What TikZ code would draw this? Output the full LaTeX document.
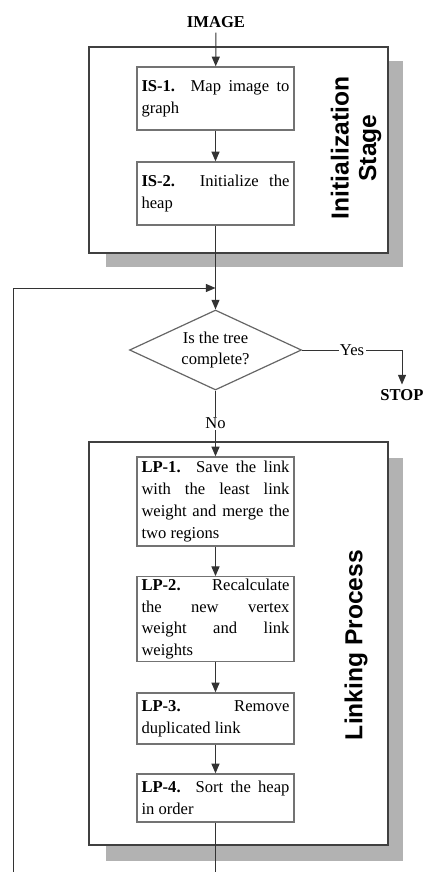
\documentclass[tikz,border=0pt]{standalone}
\usepackage{fontspec}
\setmainfont{Liberation Serif}
\setsansfont{Liberation Sans}
\usetikzlibrary{positioning}
\usetikzlibrary{shapes.geometric}
\usetikzlibrary{arrows.meta}

\newcommand\stepfont{\fontsize{11.8}{15.5}\selectfont\hyphenpenalty=10000\tolerance=10000}
\newcommand\stagefont{\fontsize{17.5}{19.5}\selectfont\sffamily\bfseries}

\tikzset{
  flow/.style={draw=black!80, line width=0.25mm, -{Triangle[length=2.4mm,width=2mm]}},
  stageframe/.style={draw=black!75, line width=0.5mm, fill=white},
  stageshadow/.style={fill=black!30},
  stepbox/.style={draw=black!55, line width=0.35mm, fill=white, text width=37mm,
    inner xsep=1.1mm, inner ysep=0.5mm, align=justify, font=\stepfont},
  test/.style={diamond, draw=black!60, line width=0.3mm, fill=white, aspect=2.15,
    minimum width=43mm, minimum height=20mm, inner sep=0pt, align=center, font=\stepfont},
  stagelabel/.style={rotate=90, align=center, font=\stagefont},
  tag/.style={font=\stepfont\bfseries},
  answer/.style={fill=white, inner sep=1pt, font=\stepfont}
}

\begin{document}
\begin{tikzpicture}[x=0.25mm,y=-0.25mm]
 \path[use as bounding box, clip] (0,0) rectangle (423,872);
 % the two stages
 \fill[stageshadow] (106,61) rectangle (403,267);
 \draw[stageframe] (89,47) rectangle (388,253);
 \fill[stageshadow] (106,458) rectangle (403,861);
 \draw[stageframe] (89,442) rectangle (388,845);

 \node[tag] (image) at (216,22) {IMAGE};
 \node[stepbox, minimum height=15.75mm] (is1) at (215.5,98.5) {\textbf{IS-1.} Map image to\linebreak graph};
 \node[stepbox, minimum height=15.75mm] (is2) at (215.5,193.5) {\textbf{IS-2.} Initialize the\linebreak heap};
 \node[stagelabel] (initlbl) at (356,148) {Initialization\\Stage};

 \coordinate (join) at (215.5,288);
 \node[test] (tree) at (215.5,350) {Is the tree\\complete?};
 \node[tag] (stop) at (402,395) {STOP};

 \node[stepbox, minimum height=22.25mm] (lp1) at (215.5,501.5) {\textbf{LP-1.} Save the link\linebreak with the least link\linebreak weight and merge the\linebreak two regions};
 \node[stepbox, minimum height=21mm] (lp2) at (215.5,619) {\textbf{LP-2.} Recalculate\linebreak the new vertex\linebreak weight and link\linebreak weights};
 \node[stepbox, minimum height=12.75mm] (lp3) at (215.5,718.5) {\textbf{LP-3.} Remove\linebreak duplicated link};
 \node[stepbox, minimum height=12mm] (lp4) at (215.5,798) {\textbf{LP-4.} Sort the heap\linebreak in order};
 \node[stagelabel] (linklbl) at (356,645) {Linking Process};

 \coordinate (loopcorner) at (13,900);

 \draw[flow] (image) -- (is1);
 \draw[flow] (is1) -- (is2);
 \draw[flow] (is2) -- (tree);
 \draw[flow] (tree.east) -| node[pos=0.25, answer] {Yes} (stop.north);
 \draw[flow] (tree) -- node[answer] {No} (lp1);
 \draw[flow] (lp1) -- (lp2);
 \draw[flow] (lp2) -- (lp3);
 \draw[flow] (lp3) -- (lp4);
 \draw[flow] (lp4.south) |- (loopcorner) |- (join);
\end{tikzpicture}
\end{document}
